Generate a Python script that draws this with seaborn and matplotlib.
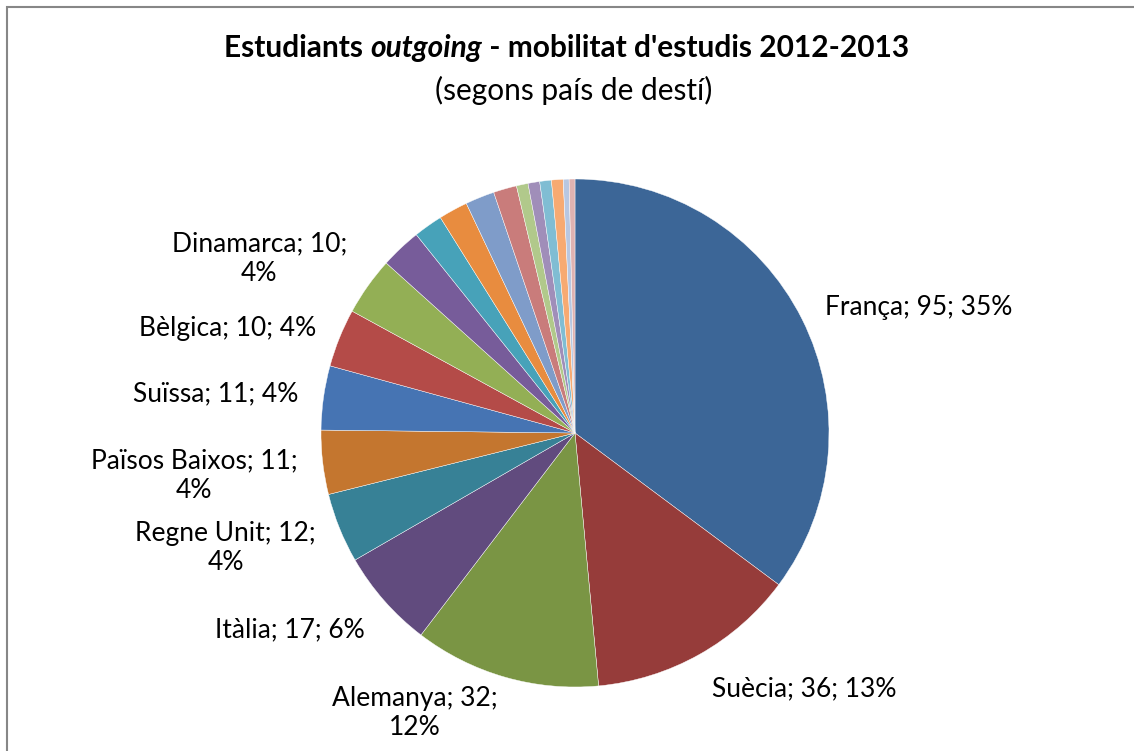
import numpy as np
import seaborn as sns
import matplotlib.pyplot as plt
from matplotlib.patches import Rectangle

sns.set_style('white')
plt.rcParams['font.family'] = ['Lato', 'DejaVu Sans']

# paisos de desti (els petits sense etiqueta)
countries = ['França', 'Suècia', 'Alemanya', 'Itàlia', 'Regne Unit',
             'Països Baixos', 'Suïssa', 'Bèlgica', 'Dinamarca',
             '', '', '', '', '', '', '', '', '', '', '']
students = [95, 36, 32, 17, 12, 11, 11, 10, 10,
            7, 5, 5, 5, 4, 2, 2, 2, 2, 1, 1]
wrapped = ['Alemanya', 'Regne Unit', 'Països Baixos', 'Dinamarca']
colors = ['#3C6697', '#963C3A', '#7A9544', '#614B7E', '#378196',
          '#C4762F', '#4674B3', '#B44B48', '#93AF55', '#775C9A',
          '#47A2B9', '#E88C3F', '#7F9CC9', '#C97C7B', '#B1C98B',
          '#A08EB9', '#80BDD3', '#F7AA72', '#B8C7E1', '#DFB2B1']

fig = plt.figure(figsize=(11.34, 7.51), dpi=100)
ax = fig.add_axes([(575 - 254) / 1134, 1 - (433 + 254) / 751,
                   508 / 1134, 508 / 751])

wedges, _ = ax.pie(students, colors=colors, startangle=90, counterclock=False,
                   wedgeprops={'edgecolor': 'white', 'linewidth': 0.3})
ax.set_aspect('equal')
ax.set_xlim(-1, 1)
ax.set_ylim(-1, 1)

total = sum(students)
for w, name, v in zip(wedges, countries, students):
    if not name:
        continue
    pct = round(100 * v / total)
    sep = '\n' if name in wrapped else ' '
    label = f'{name}; {v};{sep}{pct}%'
    ang = np.deg2rad((w.theta1 + w.theta2) / 2)
    x, y = 1.1 * np.cos(ang), 1.1 * np.sin(ang)
    ha = 'left' if x > 0 else 'right'
    va = 'center' if y > -0.5 else 'top'
    if name in wrapped and -0.5 < y < 0:
        y -= 0.04
    if name == 'Dinamarca':
        y += 0.05
    if name == 'Alemanya':
        y += 0.06
    ax.text(x, y, label, ha=ha, va=va, multialignment='center',
            fontsize=19, color='#000000', clip_on=False)

# titol amb una part en cursiva
pieces = [('Estudiants ', 'normal'), ('outgoing', 'italic'),
          (" - mobilitat d'estudis 2012-2013", 'normal')]
renderer = fig.canvas.get_renderer()
texts = []
for s, style in pieces:
    t = fig.text(0, 1 - 48 / 751, s, fontsize=21.5, fontweight='bold',
                 style=style, va='center', ha='left', color='#000000')
    texts.append(t)
widths = [t.get_window_extent(renderer).width for t in texts]
x0 = (1134 - sum(widths)) / 2
for t, wd in zip(texts, widths):
    t.set_x(x0 / 1134)
    x0 += wd
fig.text(574 / 1134, 1 - 90 / 751, '(segons país de destí)', fontsize=21.5,
         ha='center', va='center', color='#000000')

fig.patches.append(Rectangle((7 / 1134, -0.1), 1.2, 1 - 7 / 751 + 0.1,
                             transform=fig.transFigure, fill=False,
                             edgecolor='#878787', linewidth=1.5))

fig.savefig('out.png', dpi=100)
